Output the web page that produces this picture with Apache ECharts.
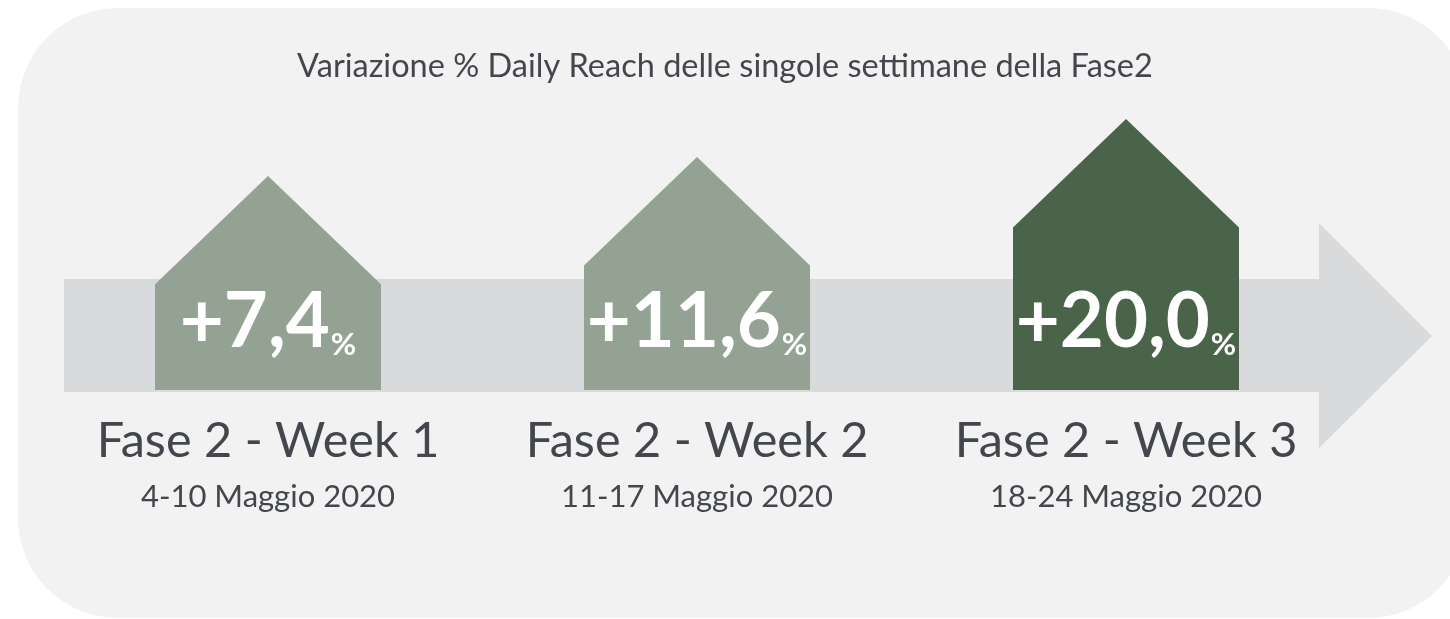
<!DOCTYPE html>
<html>
<head>
<meta charset="utf-8">
<script src="https://cdn.jsdelivr.net/npm/echarts@6/dist/echarts.min.js"></script>
<style>
  html, body { margin: 0; padding: 0; background: #ffffff; }
  #chart { width: 1450px; height: 619px; }
</style>
</head>
<body>
<div id="chart"></div>
<script>
// dati
const weeks = ['Fase 2 - Week 1', 'Fase 2 - Week 2', 'Fase 2 - Week 3']
const dates = ['4-10 Maggio 2020', '11-17 Maggio 2020', '18-24 Maggio 2020']
const reachChange = [7.4, 11.6, 20.0]

const houseColors = ['#93a293', '#93a293', '#4a6449']
const textColor = '#43474d'
const yMin = -40

const chart = echarts.init(document.getElementById('chart'))

const fmt = v => '+' + v.toFixed(1).replace('.', ',')

// casetta: corpo rettangolare + tetto a 45 gradi
const renderHouse = (params, api) => {
    const i = api.value(0)
    const v = api.value(1)
    const peak = api.coord([i, v])
    const base = api.coord([i, yMin])
    const w = 226
    const half = w / 2
    const cx = peak[0]
    const roof = half * 0.96
    return {
        type: 'group',
        children: [
            {
                type: 'polygon',
                shape: {
                    points: [
                        [cx - half, base[1]],
                        [cx - half, peak[1] + roof],
                        [cx, peak[1]],
                        [cx + half, peak[1] + roof],
                        [cx + half, base[1]]
                    ]
                },
                style: { fill: houseColors[params.dataIndex] }
            },
            {
                type: 'text',
                x: cx,
                y: 360,
                style: {
                    text: '{a|' + fmt(v) + '}{b|%}',
                    align: 'center',
                    verticalAlign: 'bottom',
                    rich: {
                        a: { fontFamily: 'Lato', fontWeight: 'bold', fontSize: 76, fill: '#ffffff', color: '#ffffff', verticalAlign: 'bottom', lineHeight: 80 },
                        b: { fontFamily: 'Lato', fontWeight: 'bold', fontSize: 31, fill: '#ffffff', color: '#ffffff', verticalAlign: 'bottom', lineHeight: 80, padding: [0, 0, 0, 1] }
                    }
                }
            }
        ]
    }
}

chart.setOption({
    backgroundColor: '#ffffff',
    animation: false,
    title: {
        text: 'Variazione % Daily Reach delle singole settimane della Fase2',
        left: 'center',
        top: 45,
        textStyle: { fontFamily: 'Lato', fontWeight: 'normal', fontSize: 32.5, color: textColor }
    },
    graphic: [
        {
            type: 'rect',
            z: -10,
            shape: { x: 18, y: 8, width: 1450, height: 610, r: 100 },
            style: { fill: '#f2f2f2' }
        },
        {
            type: 'polygon',
            z: -5,
            shape: {
                points: [[64, 279], [1319, 279], [1319, 223], [1432, 336], [1319, 448], [1319, 392], [64, 392]]
            },
            style: { fill: '#d9dadc' }
        }
    ],
    grid: { left: 53.5, width: 1287, top: 73.8, bottom: 229 },
    xAxis: {
        type: 'category',
        data: weeks,
        axisLine: { show: false },
        axisTick: { show: false },
        axisLabel: {
            margin: 22,
            formatter: (val, idx) => '{a|' + val + '}\n{b|' + dates[idx] + '}',
            rich: {
                a: { fontFamily: 'Lato', fontSize: 48.6, color: textColor, lineHeight: 58 },
                b: { fontFamily: 'Lato', fontSize: 31, color: textColor, lineHeight: 54 }
            }
        }
    },
    yAxis: {
        type: 'value',
        min: yMin,
        max: 30,
        show: false,
        splitLine: { show: false }
    },
    series: [
        {
            type: 'custom',
            z: 5,
            renderItem: renderHouse,
            data: reachChange.map((v, i) => [i, v])
        }
    ]
})
</script>
</body>
</html>
